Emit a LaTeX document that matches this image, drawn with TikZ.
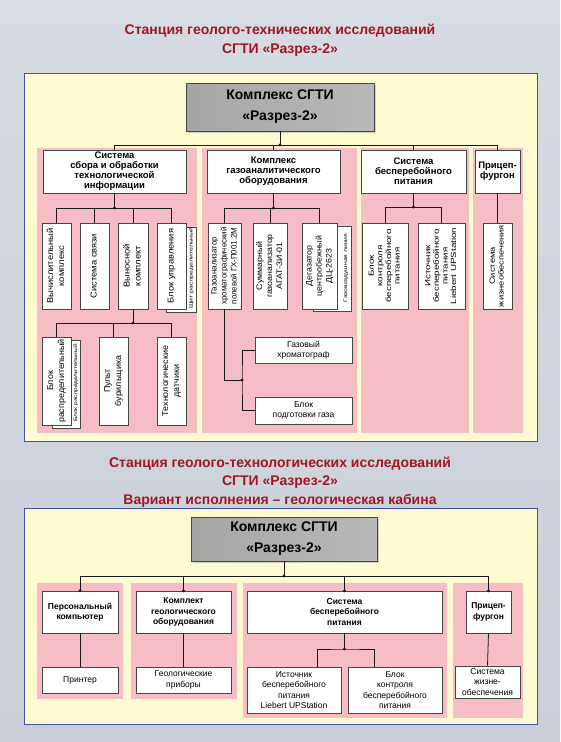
\documentclass[tikz,border=0pt]{standalone}
\usepackage{fontspec}
\setmainfont{Liberation Sans}
\usepackage{graphicx}
\usetikzlibrary{calc, shadows}
\definecolor{bgtop}{RGB}{214,220,228}
\definecolor{bgbot}{RGB}{200,207,216}
\definecolor{panelyel}{RGB}{255,251,208}
\definecolor{panelblue}{RGB}{60,85,165}
\definecolor{secpink}{RGB}{246,190,196}
\definecolor{titlered}{RGB}{160,22,34}
\definecolor{linedark}{RGB}{25,25,25}
\definecolor{boxedge}{RGB}{70,70,70}

% rotated multi-line text, #1 = stretch along the text
\newcommand{\vtext}[2][1]{\rotatebox{90}{\scalebox{#1}[1]{\begin{tabular}{@{}c@{}}#2\end{tabular}}}}

\tikzset{
  panel/.style={draw=panelblue, fill=panelyel, line width=0.9pt},
  sect/.style={fill=secpink},
  topbox/.style={rectangle, draw=boxedge, left color=gray!70, middle color=white,
    right color=gray!55, align=center, line width=0.7pt,
    font=\fontsize{14}{21}\selectfont\bfseries,
    drop shadow={shadow xshift=2pt, shadow yshift=-2pt, fill=gray!70}},
  block/.style={rectangle, draw=boxedge, fill=white, align=center, inner sep=1pt,
    font=\fontsize{8.5}{10.5}\selectfont\bfseries, line width=0.6pt},
  bighead/.style={block, inner sep=0pt, font=\fontsize{9.5}{10}\selectfont\bfseries},
  plainbox/.style={block, font=\fontsize{8.5}{10.5}\selectfont},
  vbox/.style={rectangle, draw=boxedge, fill=white, inner sep=0pt,
    font=\fontsize{8.5}{11}\selectfont, line width=0.6pt},
  vmid/.style={vbox, font=\fontsize{8}{10}\selectfont},
  vsmall/.style={vbox, font=\fontsize{7.5}{8.6}\selectfont},
  backbox/.style={rectangle, draw=boxedge, fill=white, line width=0.6pt},
  tinylbl/.style={inner sep=0pt, font=\fontsize{5}{6}\selectfont},
  title/.style={font=\fontsize{14}{18.5}\selectfont\bfseries, text=titlered, align=center},
  line/.style={line width=0.8pt, color=linedark},
  dot/.style={circle, fill=linedark, inner sep=0pt, minimum size=3.4pt}
}

\begin{document}
\begin{tikzpicture}[x=1pt, y=-1pt]
  \useasboundingbox (0,0) rectangle (560,742);
  \shade[top color=bgtop, bottom color=bgbot] (0,0) rectangle (560,742);

  % ---------- first station ----------
  \node[title] (title1) at (280,40) {Станция геолого-технических исследований\\СГТИ «Разрез-2»};
  \draw[panel] (24,73) rectangle (537,441);
  \fill[sect] (37,148) rectangle (197,433);
  \fill[sect] (202,148) rectangle (357,433);
  \fill[sect] (361,148) rectangle (469,433);
  \fill[sect] (473,148) rectangle (523,433);

  \node[topbox, minimum width=188pt, minimum height=48pt] (kompl) at (280,107) {Комплекс СГТИ\\«Разрез-2»};

  % section heads
  \node[bighead, minimum width=143pt, minimum height=43pt] (s1) at (114.5,171.5) {Система\\сбора и обработки\\технологической\\информации};
  \node[bighead, minimum width=133pt, minimum height=43pt] (s2) at (273.5,171.5) {Комплекс\\газоаналитического\\оборудования};
  \node[bighead, minimum width=105pt, minimum height=43pt] (s3) at (413.5,171.5) {Система\\бесперебойного\\питания};
  \node[bighead, minimum width=45pt, minimum height=43pt] (s4) at (497.5,171.5) {Прицеп-\\фургон};

  \node[dot] (j0) at (280,145) {};
  \draw[line] (kompl.south) -- (j0.center);
  \draw[line] (s1.north|-j0) -- (s4.north|-j0);
  \foreach \b in {s1,s2,s3,s4} \draw[line] (\b.north|-j0) -- (\b.north);

  % collection and processing
  \node[backbox, minimum width=30pt, minimum height=85pt] (b14) at (181,269.5) {};
  \node[tinylbl] (l14) at (191.5,268) {\vtext[1.4]{Щит распределительный}};
  \node[vbox, minimum width=29pt, minimum height=86pt] (v11) at (56.5,266) {\vtext[1.1]{Вычислительный\\комплекс}};
  \node[vbox, minimum width=29pt, minimum height=86pt] (v12) at (94.5,266) {\vtext[1.1]{Система связи}};
  \node[vbox, minimum width=30pt, minimum height=86pt] (v13) at (133,266) {\vtext[1.1]{Выносной\\комплект}};
  \node[vbox, minimum width=29pt, minimum height=86pt] (v14) at (171.5,266) {\vtext[1.1]{Блок управления}};
  \node[dot] (j1) at (114.5,208) {};
  \draw[line] (s1.south) -- (j1.center);
  \draw[line] (v11.north|-j1) -- (v14.north|-j1);
  \foreach \b in {v11,v12,v13,v14} \draw[line] (\b.north|-j1) -- (\b.north);

  \node[backbox, minimum width=28pt, minimum height=88pt] (b11) at (66,384) {};
  \node[tinylbl] (l11) at (76,383) {\vtext[1.3]{Блок распределительный}};
  \node[vbox, minimum width=29pt, minimum height=88pt] (w11) at (56.5,381) {\vtext[1.05]{Блок\\распределительный}};
  \node[vbox, minimum width=29pt, minimum height=88pt] (w12) at (113.5,381) {\vtext[1.05]{Пульт\\бурильщика}};
  \node[vbox, minimum width=29pt, minimum height=88pt] (w13) at (171.5,381) {\vtext[1.05]{Технологические\\датчики}};
  \node[dot] (j5) at (133,323) {};
  \draw[line] (v13.south) -- (j5.center);
  \draw[line] (w11.north|-j5) -- (w13.north|-j5);
  \foreach \b in {w11,w12,w13} \draw[line] (\b.north|-j5) -- (\b.north);

  % gas analysis
  \node[backbox, minimum width=38pt, minimum height=85pt] (b23) at (332,268.5) {};
  \node[tinylbl] (l23) at (346,268) {\vtext[1.35]{Газовоздушная линия}};
  \node[vmid, minimum width=33pt, minimum height=86pt] (v21) at (224.5,266) {\vtext[0.98]{Газоанализатор\\хроматографический\\полевой ГХ-П001.2М}};
  \node[vmid, minimum width=34pt, minimum height=86pt] (v22) at (270,266) {\vtext[1.1]{Суммарный\\газоанализатор\\АГАТ-3И-01}};
  \node[vmid, minimum width=35pt, minimum height=86pt] (v23) at (319.5,266) {\vtext[1.1]{Дегазатор\\центробежный\\ДЦ-2623}};
  \node[dot] (j2) at (273.5,208) {};
  \draw[line] (s2.south) -- (j2.center);
  \draw[line] (v21.north|-j2) -- (v23.north|-j2);
  \foreach \b in {v21,v22,v23} \draw[line] (\b.north|-j2) -- (\b.north);

  \node[plainbox, minimum width=97pt, minimum height=26pt] (gh) at (303.5,350) {Газовый\\хроматограф};
  \node[plainbox, minimum width=97pt, minimum height=27pt] (bp) at (303.5,410.5) {Блок\\подготовки газа};
  \node[dot] (j3) at (242,380) {};
  \draw[line] (v21.south) |- (j3.center);
  \draw[line] (gh.west) -| (j3.center) |- (bp.west);

  % uninterruptible power
  \node[vsmall, minimum width=46pt, minimum height=86pt] (v31) at (385,266) {\vtext[1.3]{Блок\\контроля\\бесперебойного\\питания}};
  \node[vsmall, minimum width=47pt, minimum height=86pt] (v32) at (441.5,266) {\vtext[1.3]{Источник\\бесперебойного\\питания\\Liebert UPStation}};
  \node[dot] (j4) at (413.5,207) {};
  \draw[line] (s3.south) -- (j4.center);
  \draw[line] (v31.north|-j4) -- (v32.north|-j4);
  \foreach \b in {v31,v32} \draw[line] (\b.north|-j4) -- (\b.north);

  % trailer
  \node[vsmall, minimum width=29pt, minimum height=86pt] (v41) at (497.5,266) {\vtext[1.25]{Система\\жизнеобеспечения}};
  \draw[line] (s4.south) -- (v41.north);

  % ---------- geological cabin ----------
  \node[title] (title2) at (280,482) {Станция геолого-технологических исследований\\СГТИ «Разрез-2»\\Вариант исполнения – геологическая кабина};
  \draw[panel] (24,508) rectangle (537,724);
  \fill[sect] (37,583) rectangle (123,699);
  \fill[sect] (131,583) rectangle (237,699);
  \fill[sect] (243,583) rectangle (447,718);
  \fill[sect] (453,583) rectangle (523,718);

  \node[topbox, minimum width=186pt, minimum height=44pt] (kompl2) at (284,539) {Комплекс СГТИ\\«Разрез-2»};

  \node[block, minimum width=76pt, minimum height=42pt] (t1) at (80,612) {Персональный\\компьютер};
  \node[block, minimum width=95pt, minimum height=42pt] (t2) at (183.5,612) {Комплект\\геологического\\оборудования};
  \node[block, minimum width=195pt, minimum height=42pt] (t3) at (344.5,612) {Система\\бесперебойного\\питания};
  \node[block, minimum width=45pt, minimum height=42pt] (t4) at (488.5,612) {Прицеп-\\фургон};

  \node[dot] (k0) at (284,576) {};
  \draw[line] (kompl2.south) -- (k0.center);
  \draw[line] (t1.north|-k0) -- (t4.north|-k0);
  \foreach \b in {t1,t2,t3,t4} {
    \draw[line] (\b.north|-k0) -- (\b.north);
    \node[dot] (d-\b) at (\b.north) {};
  }

  \node[plainbox, minimum width=76pt, minimum height=26pt] (u1) at (80,680) {Принтер};
  \node[plainbox, minimum width=95pt, minimum height=26pt] (u2) at (183.5,680) {Геологические\\приборы};
  \node[plainbox, minimum width=94pt, minimum height=46pt] (u31) at (294,690) {Источник\\бесперебойного\\питания\\Liebert UPStation};
  \node[plainbox, minimum width=94pt, minimum height=46pt] (u32) at (395,690) {Блок\\контроля\\бесперебойного\\питания};
  \node[plainbox, minimum width=65pt, minimum height=32pt] (u4) at (487.5,682) {Система\\жизне-\\обеспечения};

  \draw[line] (t1.south) -- (u1.north);
  \draw[line] (t2.south) -- (u2.north);
  \draw[line] (t4.south) -- (u4.north);
  \node[dot] (j6) at (344.5,649) {};
  \draw[line] (t3.south) -- (j6.center);
  \draw[line] ($(u31.north)+(23,0)$) |- (j6.center) -| ($(u32.north)+(-21,0)$);
\end{tikzpicture}
\end{document}
